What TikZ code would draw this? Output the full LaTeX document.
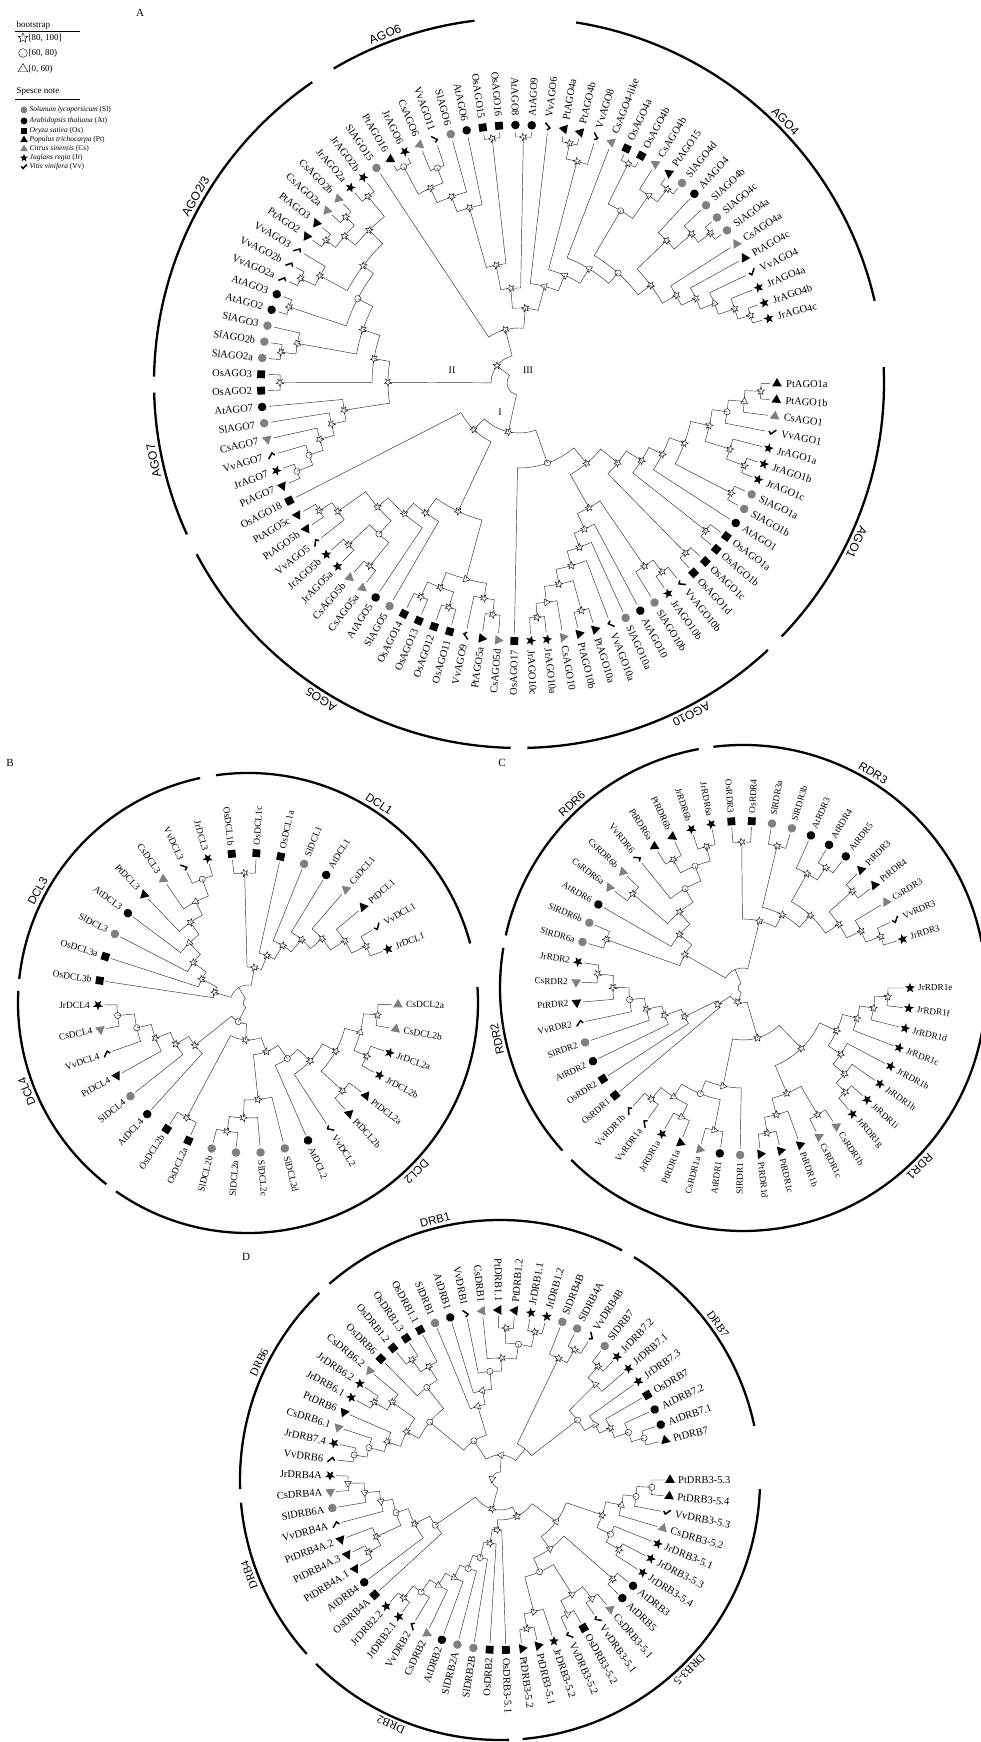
\documentclass[tikz,border=0pt]{standalone}
\usepackage{fontspec}
\setmainfont{Liberation Serif}
\setsansfont{Liberation Sans}
\usetikzlibrary{positioning}
\definecolor{cSp}{HTML}{808080}
\definecolor{cBr}{HTML}{2B2B2B}
\tikzset{
  br/.style={line width=0.45pt, draw=cBr},
  lbl/.style={inner sep=1pt, font=\fontsize{10}{11}\selectfont},
  cbar/.style={line width=2.3pt},
  ctxt/.style={inner sep=1pt, anchor=south, font=\sffamily\fontsize{12}{13}\selectfont},
  lgh/.style={inner sep=0.5pt, font=\fontsize{9}{10}\selectfont},
  lgt/.style={inner sep=0.5pt, font=\fontsize{7.5}{9}\selectfont},
  tag/.style={inner sep=1pt, font=\fontsize{11}{12}\selectfont},
  bsfill/.style={fill=white, draw=black, line width=0.4pt},
  mkS/.pic={\fill (90:5.2)--(126:2.2)--(162:5.2)--(198:2.2)--(234:5.2)--(270:2.2)--(306:5.2)--(342:2.2)--(18:5.2)--(54:2.2)--cycle;},
  mkC/.pic={\fill (0,0) circle[radius=4.3pt];},
  mkG/.pic={\fill[cSp] (0,0) circle[radius=4.3pt];},
  mkQ/.pic={\fill (-3.9,-3.9) rectangle (3.9,3.9);},
  mkT/.pic={\fill (90:5.6)--(210:5.6)--(330:5.6)--cycle;},
  mkU/.pic={\fill[cSp] (90:5.6)--(210:5.6)--(330:5.6)--cycle;},
  mkV/.pic={\draw[line width=1.5pt] (-3.4,0.9)--(-1.2,-1.9)--(3.6,3);},
  bsS/.pic={\filldraw[bsfill] (90:3.9)--(126:1.7)--(162:3.9)--(198:1.7)--(234:3.9)--(270:1.7)--(306:3.9)--(342:1.7)--(18:3.9)--(54:1.7)--cycle;},
  bsC/.pic={\filldraw[bsfill] (0,0) circle[radius=3.1pt];},
  bsT/.pic={\filldraw[bsfill] (90:3.9)--(210:3.9)--(330:3.9)--cycle;},
  bsN/.pic={},
}
% leaf: index, species mark, name
\newcommand{\lfx}[3]{%
  \pgfmathsetmacro\lfA{\aO+(\aS)*#1}%
  \expandafter\xdef\csname nA#1-#1\endcsname{\lfA}%
  \expandafter\xdef\csname nR#1-#1\endcsname{\rl}%
  \pic[rotate=\lfA] at (\lfA:\rs) {mk#2};%
  \pgfmathtruncatemacro\lfR{cos(\lfA)>0 ? 1 : 0}%
  \ifnum\lfR=1
    \node[lbl, anchor=west, rotate=\lfA] (\pn#1) at (\lfA:\rt) {#3};%
  \else
    \node[lbl, anchor=east, rotate=\lfA+180] (\pn#1) at (\lfA:\rt) {#3};%
  \fi}
% join: first, split, last, radius, bootstrap mark
\newcommand{\cld}[5]{%
  \pgfmathtruncatemacro\cldT{#2+1}%
  \edef\cldAa{\csname nA#1-#2\endcsname}%
  \edef\cldRa{\csname nR#1-#2\endcsname}%
  \edef\cldAb{\csname nA\cldT-#3\endcsname}%
  \edef\cldRb{\csname nR\cldT-#3\endcsname}%
  \draw[br] (\cldAa:\cldRa) -- (\cldAa:#4) arc[start angle=\cldAa, end angle=\cldAb, radius=#4pt] -- (\cldAb:\cldRb);%
  \pgfmathsetmacro\cldM{((\cldAa)+(\cldAb))/2}%
  \expandafter\xdef\csname nA#1-#3\endcsname{\cldM}%
  \expandafter\xdef\csname nR#1-#3\endcsname{#4}%
  \pic[rotate=\cldM] at (\cldM:#4) {bs#5};}
% subfamily bar
\newcommand{\grp}[5]{%
  \draw[cbar] (#1:\ra) arc[start angle=#1, end angle=#2, radius=\ra pt];
  \node[ctxt, rotate=#3-90] (#5) at (#3:\rb) {#4};}

\begin{document}
\begin{tikzpicture}[x=1pt, y=1pt]
\useasboundingbox (0,0) rectangle (980,1742);

\node[tag] (tagA) at (140,1729) {A};
\node[tag] (tagB) at (10,979) {B};
\node[tag] (tagC) at (502,979) {C};
\node[tag] (tagD) at (246,485) {D};

% legend
\node[lgh, anchor=west] (lgBoot) at (16,1717) {bootstrap};
\draw[line width=0.4pt] (15,1710.5) -- (80,1710.5);
\coordinate (lgK1) at (23,1704);
\coordinate (lgK2) at (23,1689);
\coordinate (lgK3) at (23,1673);
\pic[scale=1.3] at (lgK1) {bsS};
\pic[scale=1.4] at (lgK2) {bsC};
\pic[scale=1.4] at (lgK3) {bsT};
\node[lgh, right=5pt of lgK1] (lgB1) {[80, 100]};
\node[lgh, right=5pt of lgK2] (lgB2) {[60, 80)};
\node[lgh, right=5pt of lgK3] (lgB3) {[0, 60)};
\node[lgh, anchor=west] (lgSp) at (16,1650) {Spesce note};
\draw[line width=0.4pt] (15,1643) -- (80,1643);
\coordinate (lgS1) at (24,1632);
\coordinate (lgS2) at (24,1621);
\coordinate (lgS3) at (24,1611);
\coordinate (lgS4) at (24,1602);
\coordinate (lgS5) at (24,1593);
\coordinate (lgS6) at (24,1584);
\coordinate (lgS7) at (24,1575);
\pic[scale=0.8] at (lgS1) {mkG};
\pic[scale=0.8] at (lgS2) {mkC};
\pic[scale=0.8] at (lgS3) {mkQ};
\pic[scale=0.8] at (lgS4) {mkT};
\pic[scale=0.8] at (lgS5) {mkU};
\pic[scale=0.8] at (lgS6) {mkS};
\pic[scale=0.8] at (lgS7) {mkV};
\node[lgt, right=5pt of lgS1] (lgT1) {\textit{Solanum lycopersicum} (Sl)};
\node[lgt, right=5pt of lgS2] (lgT2) {\textit{Arabidopsis thaliana} (At)};
\node[lgt, right=5pt of lgS3] (lgT3) {\textit{Oryza sativa} (Os)};
\node[lgt, right=5pt of lgS4] (lgT4) {\textit{Populus trichocarpa} (Pt)};
\node[lgt, right=5pt of lgS5] (lgT5) {\textit{Citrus sinensis} (Cs)};
\node[lgt, right=5pt of lgS6] (lgT6) {\textit{Juglans regia} (Jr)};
\node[lgt, right=5pt of lgS7] (lgT7) {\textit{Vitis vinifera} (Vv)};

% ---------------- A : AGO ----------------
\begin{scope}[shift={(519,1359)}, lbl/.style={inner sep=1pt, font=\fontsize{10.5}{12}\selectfont}]
\def\aO{-91}\def\aS{3.636}\def\rs{258}\def\rl{251}\def\rt{266}\def\pn{a}\def\ra{365}\def\rb{368}
\lfx{29}{S}{JrAGO4c}
\lfx{30}{S}{JrAGO4b}
\lfx{31}{S}{JrAGO4a}
\lfx{32}{V}{VvAGO4}
\lfx{33}{T}{PtAGO4c}
\lfx{34}{U}{CsAGO4a}
\lfx{35}{G}{SlAGO4a}
\lfx{36}{G}{SlAGO4c}
\lfx{37}{G}{SlAGO4b}
\lfx{38}{C}{AtAGO4}
\lfx{39}{G}{SlAGO4d}
\lfx{40}{T}{PtAGO15}
\lfx{41}{U}{CsAGO4b}
\lfx{42}{Q}{OsAGO4b}
\lfx{43}{Q}{OsAGO4a}
\lfx{44}{U}{CsAGO4-like}
\lfx{45}{V}{VvAGO8}
\lfx{46}{T}{PtAGO4b}
\lfx{47}{T}{PtAGO4a}
\lfx{48}{V}{VvAGO6}
\lfx{49}{C}{AtAGO9}
\lfx{50}{C}{AtAGO8}
\lfx{51}{Q}{OsAGO16}
\lfx{52}{Q}{OsAGO15}
\lfx{53}{C}{AtAGO6}
\lfx{54}{G}{SlAGO6}
\lfx{55}{V}{VvAGO11}
\lfx{56}{U}{CsAGO6}
\lfx{57}{S}{JrAGO6}
\lfx{58}{T}{PtAGO16}
\lfx{59}{G}{SlAGO15}
\lfx{60}{S}{JrAGO2b}
\lfx{61}{S}{JrAGO2a}
\lfx{62}{U}{CsAGO2b}
\lfx{63}{U}{CsAGO2a}
\lfx{64}{T}{PtAGO3}
\lfx{65}{T}{PtAGO2}
\lfx{66}{V}{VvAGO3}
\lfx{67}{V}{VvAGO2b}
\lfx{68}{V}{VvAGO2a}
\lfx{69}{C}{AtAGO3}
\lfx{70}{C}{AtAGO2}
\lfx{71}{G}{SlAGO3}
\lfx{72}{G}{SlAGO2b}
\lfx{73}{G}{SlAGO2a}
\lfx{74}{Q}{OsAGO3}
\lfx{75}{Q}{OsAGO2}
\lfx{76}{C}{AtAGO7}
\lfx{77}{G}{SlAGO7}
\lfx{78}{U}{CsAGO7}
\lfx{79}{V}{VvAGO7}
\lfx{80}{S}{JrAGO7}
\lfx{81}{T}{PtAGO7}
\lfx{82}{Q}{OsAGO18}
\lfx{83}{T}{PtAGO5c}
\lfx{84}{T}{PtAGO5b}
\lfx{85}{V}{VvAGO5}
\lfx{86}{S}{JrAGO5b}
\lfx{87}{S}{JrAGO5a}
\lfx{88}{U}{CsAGO5b}
\lfx{89}{U}{CsAGO5a}
\lfx{90}{C}{AtAGO5}
\lfx{91}{G}{SlAGO5}
\lfx{92}{Q}{OsAGO14}
\lfx{93}{Q}{OsAGO13}
\lfx{94}{Q}{OsAGO12}
\lfx{95}{Q}{OsAGO11}
\lfx{96}{V}{VvAGO9}
\lfx{97}{T}{PtAGO5a}
\lfx{98}{U}{CsAGO5d}
\lfx{99}{Q}{OsAGO17}
\lfx{100}{S}{JrAGO10c}
\lfx{101}{S}{JrAGO10a}
\lfx{102}{U}{CsAGO10}
\lfx{103}{T}{PtAGO10b}
\lfx{104}{T}{PtAGO10a}
\lfx{105}{V}{VvAGO10a}
\lfx{106}{G}{SlAGO10a}
\lfx{107}{C}{AtAGO10}
\lfx{108}{G}{SlAGO10b}
\lfx{109}{S}{JrAGO10b}
\lfx{110}{V}{VvAGO10b}
\lfx{111}{Q}{OsAGO1d}
\lfx{112}{Q}{OsAGO1c}
\lfx{113}{Q}{OsAGO1b}
\lfx{114}{Q}{OsAGO1a}
\lfx{115}{C}{AtAGO1}
\lfx{116}{G}{SlAGO1b}
\lfx{117}{G}{SlAGO1a}
\lfx{118}{S}{JrAGO1c}
\lfx{119}{S}{JrAGO1b}
\lfx{120}{S}{JrAGO1a}
\lfx{121}{V}{VvAGO1}
\lfx{122}{U}{CsAGO1}
\lfx{123}{T}{PtAGO1b}
\lfx{124}{T}{PtAGO1a}
% AGO10
\cld{100}{100}{101}{235}{S}
\cld{103}{103}{104}{236}{S}
\cld{100}{101}{102}{221}{T}
\cld{100}{102}{104}{205}{S}
\cld{100}{104}{105}{190}{S}
\cld{100}{105}{106}{175}{S}
\cld{100}{106}{107}{160}{S}
\cld{109}{109}{110}{237}{S}
\cld{108}{108}{110}{222}{S}
\cld{100}{107}{110}{143}{S}
% AGO1
\cld{123}{123}{124}{242}{S}
\cld{122}{122}{124}{226}{T}
\cld{121}{121}{124}{210}{C}
\cld{118}{118}{119}{240}{S}
\cld{118}{119}{120}{221}{S}
\cld{118}{120}{124}{195}{S}
\cld{116}{116}{117}{239}{S}
\cld{116}{117}{124}{176}{S}
\cld{115}{115}{124}{160}{S}
\cld{113}{113}{114}{238}{S}
\cld{113}{114}{124}{145}{S}
\cld{111}{111}{112}{238}{S}
\cld{111}{112}{124}{127}{S}
\cld{100}{110}{124}{105}{S}
\cld{99}{99}{124}{85}{C}
% AGO5
\cld{83}{83}{84}{237}{S}
\cld{83}{84}{85}{222}{S}
\cld{86}{86}{87}{235}{S}
\cld{88}{88}{89}{236}{S}
\cld{86}{87}{89}{206}{C}
\cld{83}{85}{89}{188}{S}
\cld{83}{89}{90}{174}{S}
\cld{83}{90}{91}{160}{S}
\cld{92}{92}{93}{235}{S}
\cld{94}{94}{95}{235}{S}
\cld{92}{93}{95}{219}{S}
\cld{97}{97}{98}{233}{S}
\cld{96}{96}{98}{218}{S}
\cld{92}{95}{98}{203}{T}
\cld{83}{91}{98}{142}{S}
\cld{82}{82}{98}{65}{S}
\cld{82}{98}{124}{50}{S}
% AGO7, AGO2/3
\cld{80}{80}{81}{239}{C}
\cld{79}{79}{81}{222}{C}
\cld{78}{78}{81}{207}{S}
\cld{77}{77}{81}{192}{S}
\cld{76}{76}{81}{177}{S}
\cld{60}{60}{61}{240}{S}
\cld{62}{62}{63}{240}{S}
\cld{64}{64}{65}{240}{S}
\cld{62}{63}{65}{228}{S}
\cld{60}{61}{65}{214}{S}
\cld{67}{67}{68}{242}{S}
\cld{66}{66}{68}{226}{S}
\cld{60}{65}{68}{195}{S}
\cld{69}{69}{70}{242}{S}
\cld{60}{68}{70}{182}{C}
\cld{72}{72}{73}{240}{S}
\cld{71}{71}{73}{225}{S}
\cld{60}{70}{73}{165}{S}
\cld{74}{74}{75}{239}{S}
\cld{60}{73}{75}{147}{S}
\cld{60}{75}{81}{131}{S}
% AGO4, AGO6
\cld{29}{29}{30}{241}{S}
\cld{29}{30}{31}{228}{S}
\cld{29}{31}{32}{211}{T}
\cld{29}{32}{33}{196}{S}
\cld{29}{33}{34}{180}{S}
\cld{35}{35}{36}{243}{S}
\cld{35}{36}{37}{228}{S}
\cld{35}{37}{38}{205}{S}
\cld{29}{34}{38}{164}{S}
\cld{39}{39}{40}{244}{S}
\cld{39}{40}{41}{228}{T}
\cld{42}{42}{43}{245}{S}
\cld{39}{41}{43}{200}{C}
\cld{29}{38}{43}{148}{C}
\cld{29}{43}{44}{134}{T}
\cld{46}{46}{47}{245}{S}
\cld{45}{45}{47}{229}{S}
\cld{29}{44}{47}{117}{T}
\cld{29}{47}{48}{100}{T}
\cld{49}{49}{50}{246}{S}
\cld{51}{51}{52}{246}{S}
\cld{57}{57}{58}{245}{C}
\cld{55}{55}{56}{230}{C}
\cld{55}{56}{58}{214}{S}
\cld{54}{54}{58}{198}{S}
\cld{53}{53}{58}{182}{S}
\cld{51}{52}{58}{120}{S}
\cld{49}{50}{58}{95}{S}
\cld{29}{48}{58}{75}{S}
\cld{29}{58}{59}{55}{S}
\cld{29}{59}{81}{28}{S}
\cld{29}{81}{124}{12}{N}
\node[tag, font=\fontsize{10}{11}\selectfont] (rIII) at (9,13) {III};
\node[tag, font=\fontsize{10}{11}\selectfont] (rII) at (-67,13) {II};
\node[tag, font=\fontsize{10}{11}\selectfont] (rI) at (-19,-29) {I};
\grp{13}{81}{44.5}{AGO4}{gA4}
\grp{97}{120.5}{111}{AGO6}{gA6}
\grp{124.5}{179}{150}{AGO2/3}{gA2}
\grp{181.5}{204.5}{192}{AGO7}{gA7}
\grp{208}{268.7}{238}{AGO5}{gA5}
\grp{271.3}{313}{297.5}{AGO10}{gA10}
\grp{316}{362.5}{334.7}{AGO1}{gA1}
\end{scope}

% ---------------- B : DCL ----------------
\begin{scope}[shift={(248,739)}, lbl/.style={inner sep=1pt, font=\fontsize{9.5}{11}\selectfont},
  ctxt/.style={inner sep=1pt, anchor=south, font=\sffamily\fontsize{11.5}{13}\selectfont}]
\def\aO{-0.6}\def\aS{-9.4}\def\rs{150}\def\rl{144}\def\rt{157}\def\pn{b}\def\ra{230}\def\rb{233}
\lfx{0}{U}{CsDCL2a}
\lfx{1}{U}{CsDCL2b}
\lfx{2}{S}{JrDCL2a}
\lfx{3}{S}{JrDCL2b}
\lfx{4}{T}{PtDCL2a}
\lfx{5}{T}{PtDCL2b}
\lfx{6}{V}{VvDCL2}
\lfx{7}{C}{AtDCL2}
\lfx{8}{G}{SlDCL2d}
\lfx{9}{G}{SlDCL2c}
\lfx{10}{G}{SlDCL2a}
\lfx{11}{G}{SlDCL2b}
\lfx{12}{Q}{OsDCL2a}
\lfx{13}{Q}{OsDCL2b}
\lfx{14}{C}{AtDCL4}
\lfx{15}{G}{SlDCL4}
\lfx{16}{T}{PtDCL4}
\lfx{17}{V}{VvDCL4}
\lfx{18}{U}{CsDCL4}
\lfx{19}{S}{JrDCL4}
\lfx{20}{Q}{OsDCL3b}
\lfx{21}{Q}{OsDCL3a}
\lfx{22}{G}{SlDCL3}
\lfx{23}{C}{AtDCL3}
\lfx{24}{T}{PtDCL3}
\lfx{25}{U}{CsDCL3}
\lfx{26}{V}{VvDCL3}
\lfx{27}{S}{JrDCL3}
\lfx{28}{Q}{OsDCL1b}
\lfx{29}{Q}{OsDCL1c}
\lfx{30}{Q}{OsDCL1a}
\lfx{31}{G}{SlDCL1}
\lfx{32}{C}{AtDCL1}
\lfx{33}{U}{CsDCL1}
\lfx{34}{T}{PtDCL1}
\lfx{35}{V}{VvDCL1}
\lfx{36}{S}{JrDCL1}
\cld{0}{0}{1}{130}{S}
\cld{2}{2}{3}{130}{S}
\cld{0}{1}{3}{116}{T}
\cld{4}{4}{5}{129}{S}
\cld{0}{3}{5}{100}{S}
\cld{0}{5}{6}{85}{S}
\cld{0}{6}{7}{68}{C}
\cld{10}{10}{11}{130}{S}
\cld{9}{9}{11}{115}{S}
\cld{8}{8}{11}{97}{S}
\cld{0}{7}{11}{52}{S}
\cld{12}{12}{13}{130}{S}
\cld{0}{11}{13}{37}{S}
\cld{18}{18}{19}{131}{C}
\cld{17}{17}{19}{114}{C}
\cld{16}{16}{19}{99}{S}
\cld{15}{15}{19}{83}{S}
\cld{14}{14}{19}{68}{S}
\cld{0}{13}{19}{21}{C}
\cld{26}{26}{27}{132}{C}
\cld{25}{25}{27}{114}{T}
\cld{24}{24}{27}{99}{S}
\cld{23}{23}{27}{84}{T}
\cld{22}{22}{27}{68}{S}
\cld{21}{21}{27}{52}{S}
\cld{20}{20}{27}{35}{S}
\cld{35}{35}{36}{131}{S}
\cld{34}{34}{36}{115}{S}
\cld{33}{33}{36}{98}{S}
\cld{32}{32}{36}{83}{S}
\cld{31}{31}{36}{67}{S}
\cld{30}{30}{36}{51}{S}
\cld{28}{28}{29}{130}{S}
\cld{28}{29}{36}{36}{S}
\cld{20}{27}{36}{18}{N}
\cld{0}{19}{36}{5}{N}
\grp{15}{98}{56.6}{DCL1}{gB1}
\grp{102}{174}{152}{DCL3}{gB3}
\grp{177}{232}{201.8}{DCL4}{gB4}
\grp{235}{364}{315}{DCL2}{gB2}
\end{scope}

% ---------------- C : RDR ----------------
\begin{scope}[shift={(743,754)}, lbl/.style={inner sep=1pt, font=\fontsize{9.2}{11}\selectfont},
  ctxt/.style={inner sep=1pt, anchor=south, font=\sffamily\fontsize{11.5}{13}\selectfont}]
\def\aO{0}\def\aS{-7}\def\rs{167}\def\rl{161}\def\rt{174}\def\pn{c}\def\ra{243}\def\rb{246}
\lfx{0}{S}{JrRDR1e}
\lfx{1}{S}{JrRDR1f}
\lfx{2}{S}{JrRDR1d}
\lfx{3}{S}{JrRDR1c}
\lfx{4}{S}{JrRDR1b}
\lfx{5}{S}{JrRDR1h}
\lfx{6}{S}{JrRDR1i}
\lfx{7}{S}{JrRDR1g}
\lfx{8}{U}{CsRDR1b}
\lfx{9}{U}{CsRDR1c}
\lfx{10}{T}{PtRDR1b}
\lfx{11}{T}{PtRDR1c}
\lfx{12}{T}{PtRDR1d}
\lfx{13}{G}{SlRDR1}
\lfx{14}{C}{AtRDR1}
\lfx{15}{U}{CsRDR1a}
\lfx{16}{T}{PtRDR1a}
\lfx{17}{S}{JrRDR1a}
\lfx{18}{V}{VvRDR1a}
\lfx{19}{V}{VvRDR1b}
\lfx{20}{Q}{OsRDR1}
\lfx{21}{Q}{OsRDR2}
\lfx{22}{C}{AtRDR2}
\lfx{23}{G}{SlRDR2}
\lfx{24}{V}{VvRDR2}
\lfx{25}{T}{PtRDR2}
\lfx{26}{U}{CsRDR2}
\lfx{27}{S}{JrRDR2}
\lfx{28}{G}{SlRDR6a}
\lfx{29}{G}{SlRDR6b}
\lfx{30}{C}{AtRDR6}
\lfx{31}{U}{CsRDR6a}
\lfx{32}{U}{CsRDR6b}
\lfx{33}{V}{VvRDR6}
\lfx{34}{T}{PtRDR6a}
\lfx{35}{T}{PtRDR6b}
\lfx{36}{S}{JrRDR6b}
\lfx{37}{S}{JrRDR6a}
\lfx{38}{Q}{OsRDR3}
\lfx{39}{Q}{OsRDR4}
\lfx{40}{G}{SlRDR3a}
\lfx{41}{G}{SlRDR3b}
\lfx{42}{C}{AtRDR3}
\lfx{43}{C}{AtRDR4}
\lfx{44}{C}{AtRDR5}
\lfx{45}{T}{PtRDR3}
\lfx{46}{T}{PtRDR4}
\lfx{47}{U}{CsRDR3}
\lfx{48}{V}{VvRDR3}
\lfx{49}{S}{JrRDR3}
\cld{0}{0}{1}{145}{S}
\cld{0}{1}{2}{132}{S}
\cld{0}{2}{3}{118}{S}
\cld{6}{6}{7}{146}{S}
\cld{5}{5}{7}{133}{S}
\cld{4}{4}{7}{118}{S}
\cld{0}{3}{7}{103}{S}
\cld{8}{8}{9}{147}{S}
\cld{11}{11}{12}{147}{S}
\cld{10}{10}{12}{131}{S}
\cld{8}{9}{12}{114}{S}
\cld{0}{7}{12}{84}{S}
\cld{18}{18}{19}{144}{S}
\cld{16}{16}{17}{143}{T}
\cld{16}{17}{19}{129}{T}
\cld{14}{14}{15}{145}{T}
\cld{14}{15}{19}{114}{C}
\cld{13}{13}{19}{100}{T}
\cld{0}{12}{19}{52}{S}
\cld{26}{26}{27}{146}{S}
\cld{25}{25}{27}{130}{S}
\cld{24}{24}{27}{114}{C}
\cld{23}{23}{27}{99}{S}
\cld{22}{22}{27}{83}{S}
\cld{21}{21}{27}{65}{S}
\cld{20}{20}{27}{30}{S}
\cld{36}{36}{37}{146}{S}
\cld{34}{34}{35}{146}{S}
\cld{34}{35}{37}{131}{C}
\cld{33}{33}{37}{115}{C}
\cld{31}{31}{32}{145}{S}
\cld{31}{32}{37}{99}{S}
\cld{30}{30}{37}{83}{S}
\cld{28}{28}{29}{145}{S}
\cld{28}{29}{37}{67}{S}
\cld{48}{48}{49}{147}{S}
\cld{47}{47}{49}{131}{S}
\cld{45}{45}{46}{146}{S}
\cld{45}{46}{49}{115}{S}
\cld{43}{43}{44}{146}{S}
\cld{42}{42}{44}{131}{S}
\cld{42}{44}{49}{99}{S}
\cld{40}{40}{41}{146}{S}
\cld{40}{41}{49}{83}{S}
\cld{38}{38}{39}{146}{S}
\cld{38}{39}{49}{69}{S}
\cld{28}{37}{49}{20}{N}
\cld{0}{19}{27}{15}{S}
\cld{0}{27}{49}{5}{N}
\grp{11}{97}{58.8}{RDR3}{gC3}
\grp{100.5}{167.5}{132.9}{RDR6}{gC6}
\grp{170.5}{222}{191.8}{RDR2}{gC2}
\grp{225}{368}{314.7}{RDR1}{gC1}
\end{scope}

% ---------------- D : DRB ----------------
\begin{scope}[shift={(500,262)}, lbl/.style={inner sep=1pt, font=\fontsize{10.5}{12}\selectfont},
  ctxt/.style={inner sep=1pt, anchor=south, font=\fontsize{11.5}{13}\selectfont}]
\def\aO{5.5}\def\aS{-5.5}\def\rs{170}\def\rl{164}\def\rt{177}\def\pn{d}\def\ra{260}\def\rb{263}
\lfx{1}{T}{PtDRB3-5.3}
\lfx{2}{T}{PtDRB3-5.4}
\lfx{3}{V}{VvDRB3-5.3}
\lfx{4}{U}{CsDRB3-5.2}
\lfx{5}{S}{JrDRB3-5.1}
\lfx{6}{S}{JrDRB3-5.3}
\lfx{7}{S}{JrDRB3-5.4}
\lfx{8}{C}{AtDRB3}
\lfx{9}{C}{AtDRB5}
\lfx{10}{U}{CsDRB3-5.1}
\lfx{11}{V}{VvDRB3-5.1}
\lfx{12}{Q}{OsDRB3-5.2}
\lfx{13}{V}{VvDRB3-5.2}
\lfx{14}{S}{JrDRB3-5.2}
\lfx{15}{T}{PtDRB3-5.1}
\lfx{16}{T}{PtDRB3-5.2}
\lfx{17}{Q}{OsDRB3-5.1}
\lfx{18}{Q}{OsDRB2}
\lfx{19}{G}{SlDRB2B}
\lfx{20}{G}{SlDRB2A}
\lfx{21}{C}{AtDRB2}
\lfx{22}{U}{CsDRB2}
\lfx{23}{V}{VvDRB2}
\lfx{24}{S}{JrDRB2.1}
\lfx{25}{S}{JrDRB2.2}
\lfx{26}{Q}{OsDRB4A}
\lfx{27}{C}{AtDRB4}
\lfx{28}{T}{PtDRB4A.1}
\lfx{29}{T}{PtDRB4A.3}
\lfx{30}{T}{PtDRB4A.2}
\lfx{31}{V}{VvDRB4A}
\lfx{32}{G}{SlDRB6A}
\lfx{33}{U}{CsDRB4A}
\lfx{34}{S}{JrDRB4A}
\lfx{35}{V}{VvDRB6}
\lfx{36}{S}{JrDRB7.4}
\lfx{37}{U}{CsDRB6.1}
\lfx{38}{T}{PtDRB6}
\lfx{39}{S}{JrDRB6.1}
\lfx{40}{S}{JrDRB6.2}
\lfx{41}{U}{CsDRB6.2}
\lfx{42}{Q}{OsDRB6}
\lfx{43}{Q}{OsDRB1.2}
\lfx{44}{Q}{OsDRB1.3}
\lfx{45}{Q}{OsDRB1.1}
\lfx{46}{G}{SlDRB1}
\lfx{47}{C}{AtDRB1}
\lfx{48}{V}{VvDRB1}
\lfx{49}{U}{CsDRB1}
\lfx{50}{T}{PtDRB1.1}
\lfx{51}{T}{PtDRB1.2}
\lfx{52}{S}{JrDRB1.1}
\lfx{53}{S}{JrDRB1.2}
\lfx{54}{G}{SlDRB4B}
\lfx{55}{G}{SlDRB4A}
\lfx{56}{V}{VvDRB4B}
\lfx{57}{G}{SlDRB7}
\lfx{58}{S}{JrDRB7.2}
\lfx{59}{S}{JrDRB7.1}
\lfx{60}{S}{JrDRB7.3}
\lfx{61}{Q}{OsDRB7}
\lfx{62}{C}{AtDRB7.2}
\lfx{63}{C}{AtDRB7.1}
\lfx{64}{T}{PtDRB7}
\cld{1}{1}{2}{152}{C}
\cld{1}{2}{3}{137}{C}
\cld{1}{3}{4}{124}{T}
\cld{6}{6}{7}{138}{S}
\cld{5}{5}{7}{123}{C}
\cld{1}{4}{7}{108}{S}
\cld{8}{8}{9}{150}{S}
\cld{10}{10}{11}{150}{T}
\cld{12}{12}{13}{150}{T}
\cld{10}{11}{13}{135}{T}
\cld{15}{15}{16}{151}{S}
\cld{14}{14}{16}{136}{T}
\cld{10}{13}{16}{100}{C}
\cld{8}{9}{16}{85}{T}
\cld{1}{7}{16}{70}{T}
\cld{24}{24}{25}{152}{S}
\cld{23}{23}{25}{137}{C}
\cld{22}{22}{25}{122}{T}
\cld{21}{21}{25}{108}{T}
\cld{20}{20}{25}{94}{C}
\cld{19}{19}{25}{80}{C}
\cld{18}{18}{25}{64}{S}
\cld{17}{17}{25}{50}{S}
\cld{1}{16}{25}{40}{S}
\cld{33}{33}{34}{152}{T}
\cld{32}{32}{34}{136}{T}
\cld{31}{31}{34}{121}{T}
\cld{28}{28}{29}{150}{S}
\cld{28}{29}{30}{136}{S}
\cld{28}{30}{34}{109}{C}
\cld{27}{27}{34}{96}{S}
\cld{26}{26}{34}{79}{C}
\cld{1}{25}{34}{30}{S}
\cld{35}{35}{36}{148}{C}
\cld{35}{36}{37}{135}{C}
\cld{35}{37}{38}{119}{S}
\cld{39}{39}{40}{148}{S}
\cld{39}{40}{41}{133}{S}
\cld{35}{38}{41}{105}{S}
\cld{43}{43}{44}{149}{S}
\cld{43}{44}{45}{134}{S}
\cld{42}{42}{45}{118}{C}
\cld{35}{41}{45}{91}{C}
\cld{50}{50}{51}{152}{S}
\cld{52}{52}{53}{152}{S}
\cld{50}{51}{53}{137}{C}
\cld{49}{49}{53}{122}{S}
\cld{48}{48}{53}{109}{C}
\cld{47}{47}{53}{91}{T}
\cld{46}{46}{53}{77}{T}
\cld{35}{45}{53}{47}{C}
\cld{55}{55}{56}{150}{S}
\cld{54}{54}{56}{135}{S}
\cld{63}{63}{64}{150}{C}
\cld{62}{62}{64}{137}{C}
\cld{61}{61}{64}{122}{S}
\cld{60}{60}{64}{110}{T}
\cld{57}{57}{58}{150}{S}
\cld{57}{58}{59}{135}{T}
\cld{57}{59}{64}{98}{C}
\cld{54}{56}{64}{40}{N}
\cld{35}{53}{64}{25}{T}
\cld{1}{34}{64}{8}{T}
\grp{12}{59}{35.6}{DRB7}{gD7}
\grp{62}{131}{104}{\sffamily DRB1}{gD1}
\grp{134}{182}{154}{DRB6}{gD6}
\grp{185}{222}{200.7}{DRB4}{gD4}
\grp{225}{272}{246}{DRB2}{gD2}
\grp{275}{358}{315}{DRB3-5}{gD35}
\end{scope}
\end{tikzpicture}
\end{document}
